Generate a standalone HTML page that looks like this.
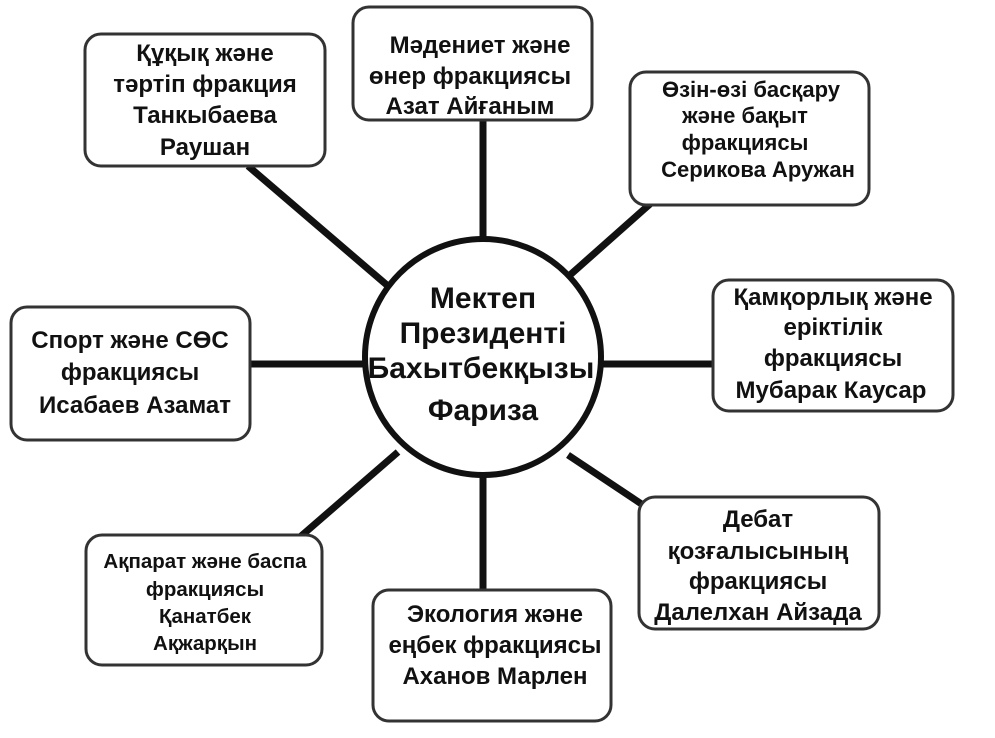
<!DOCTYPE html>
<html><head><meta charset="utf-8"><style>
html,body{margin:0;padding:0;background:#fff;width:995px;height:738px;overflow:hidden}
svg{display:block}
text{font-family:"Liberation Sans","DejaVu Sans",sans-serif;font-weight:bold;fill:#111;text-anchor:middle}
.b{font-size:24px}
.c{font-size:30px}
</style></head><body>
<svg width="995" height="738" viewBox="0 0 995 738">
<g stroke="#111" stroke-width="7" fill="none">
<line x1="248" y1="166" x2="395" y2="292"/>
<line x1="483" y1="120" x2="483" y2="240"/>
<line x1="650" y1="204" x2="570" y2="275"/>
<line x1="600" y1="364" x2="714" y2="364"/>
<line x1="568" y1="455" x2="643" y2="505"/>
<line x1="483" y1="475" x2="483" y2="592"/>
<line x1="398" y1="452" x2="300" y2="537"/>
<line x1="250" y1="364" x2="366" y2="364"/>
</g>
<circle cx="483" cy="357" r="118" fill="#fff" stroke="#111" stroke-width="6"/>
<g fill="#fff" stroke="#333" stroke-width="3">
<rect x="85" y="34" width="240" height="132" rx="16"/>
<rect x="353" y="7" width="239" height="113" rx="16"/>
<rect x="630" y="72" width="239" height="133" rx="16"/>
<rect x="713" y="280" width="240" height="131" rx="16"/>
<rect x="639" y="497" width="240" height="132" rx="16"/>
<rect x="373" y="590" width="238" height="131" rx="16"/>
<rect x="86" y="535" width="236" height="130" rx="16"/>
<rect x="11" y="307" width="239" height="133" rx="16"/>
</g>
<text class="c" x="483" y="308">Мектеп</text>
<text class="c" x="483" y="343">Президенті</text>
<text class="c" x="481" y="378">Бахытбекқызы</text>
<text class="c" x="483" y="420">Фариза</text>

<text class="b" x="205" y="61">Құқық және</text>
<text class="b" x="205" y="92">тәртіп фракция</text>
<text class="b" x="205" y="123">Танкыбаева</text>
<text class="b" x="205" y="155">Раушан</text>

<text class="b" x="480" y="53">Мәдениет және</text>
<text class="b" x="470" y="84">өнер фракциясы</text>
<text class="b" x="470" y="114">Азат Айғаным</text>

<text class="b" x="751" y="97" style="font-size:22px">Өзін-өзі  басқару</text>
<text class="b" x="745" y="123" style="font-size:22px">және бақыт</text>
<text class="b" x="745" y="150" style="font-size:22px">фракциясы</text>
<text class="b" x="758" y="177" style="font-size:22px">Серикова Аружан</text>

<text class="b" x="833" y="305">Қамқорлық және</text>
<text class="b" x="833" y="335">еріктілік</text>
<text class="b" x="833" y="366">фракциясы</text>
<text class="b" x="831" y="398">Мубарак Каусар</text>

<text class="b" x="758" y="527">Дебат</text>
<text class="b" x="758" y="559">қозғалысының</text>
<text class="b" x="758" y="589">фракциясы</text>
<text class="b" x="758" y="620">Далелхан Айзада</text>

<text class="b" x="495" y="622">Экология және</text>
<text class="b" x="495" y="653">еңбек фракциясы</text>
<text class="b" x="495" y="684">Аханов Марлен</text>

<text class="b" x="205" y="568" style="font-size:20.5px">Ақпарат және баспа</text>
<text class="b" x="205" y="596" style="font-size:20.5px">фракциясы</text>
<text class="b" x="205" y="623" style="font-size:20.5px">Қанатбек</text>
<text class="b" x="205" y="650" style="font-size:20.5px">Ақжарқын</text>

<text class="b" x="130" y="348">Спорт және СӨС</text>
<text class="b" x="130" y="380">фракциясы</text>
<text class="b" x="135" y="413">Исабаев Азамат</text>
</svg>
</body></html>
